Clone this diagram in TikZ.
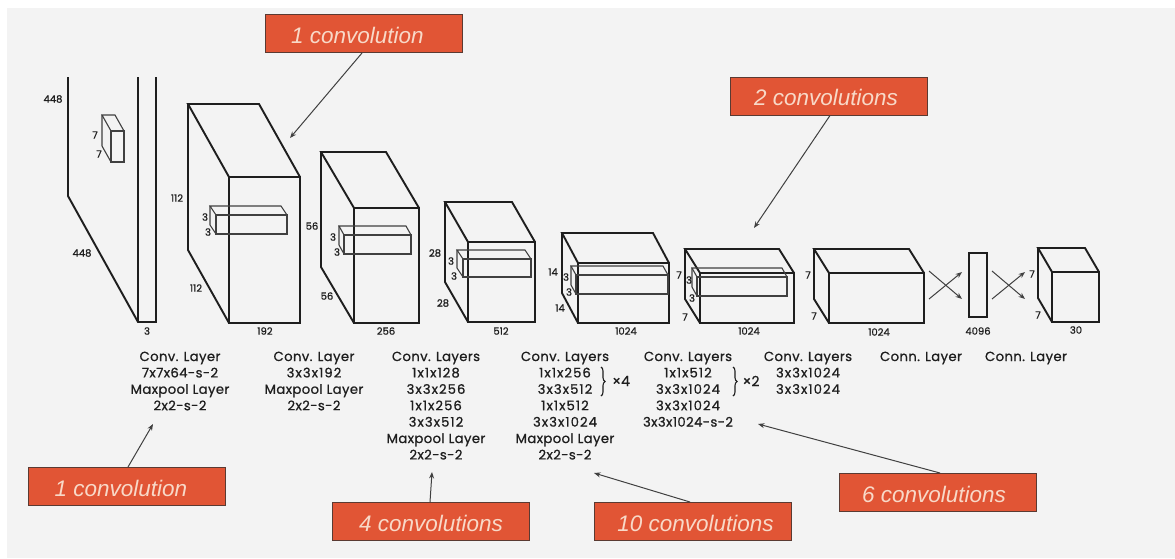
\documentclass[tikz,border=0pt]{standalone}
\usepackage{fontspec}
\usepackage{xcolor}
\usetikzlibrary{arrows.meta, decorations.pathreplacing}
\setmainfont{Poppins}
\newfontfamily\calloutfont{Liberation Sans}
\definecolor{calloutred}{HTML}{E15535}
\definecolor{calloutedge}{HTML}{5A3A32}
\definecolor{callouttext}{HTML}{F8D9C8}
\definecolor{pagegray}{HTML}{F3F3F3}
\definecolor{inkdark}{HTML}{1E1E1E}

% back top-left x,y / front top-left x,y / front bottom-right x,y
\newcommand{\cuboid}[7][box_line]{
    \draw[#1] (#4,#5) rectangle (#6,#7);
    \draw[#1] (#4,#5) -- (#2,#3) -- ({#2+#6-#4},#3) -- (#6,#5);
    \draw[#1] (#2,#3) -- (#2,{#3+#7-#5}) -- (#4,#7);
}
% kernel sizes are set wider than the rest of the text
\newcommand{\kernel}[1]{{\addfontfeature{FakeBold=0.8,LetterSpace=8}#1}}

\begin{document}
\begin{tikzpicture}[
    x=1pt, y=-1pt,
    box_line/.style={line width=1.9pt, color=inkdark, line join=miter},
    kernel_line/.style={line width=1.1pt, color=inkdark!85},
    arrow/.style={-{Stealth[length=6.5pt, width=5pt]}, line width=1pt, color=black!75},
    callout/.style={rectangle, draw=calloutedge, line width=1pt, fill=calloutred, minimum width=197pt, minimum height=38pt, inner sep=0pt, text=callouttext, text height=19pt, text depth=0pt, font=\calloutfont\fontsize{22.5}{24}\selectfont\itshape},
    layer_label/.style={anchor=north, align=center, inner sep=0pt, text=inkdark, font=\fontsize{13.2}{16.4}\selectfont\addfontfeature{FakeBold=0.8,LetterSpace=3}},
    dim_label/.style={inner sep=0pt, text=inkdark, font=\fontsize{10}{12}\selectfont\addfontfeature{FakeBold=0.8}},
    times_label/.style={inner sep=0pt, text=inkdark, font=\fontsize{14}{16}\selectfont\addfontfeature{FakeBold=0.3}},
    brace_line/.style={decorate, decoration={brace, amplitude=4pt}, line width=1.1pt, color=inkdark}
]

    % ============================================================
    % PAGE
    % ============================================================
    \useasboundingbox (0,0) rectangle (1175,558);
    \fill[white] (0,0) rectangle (1175,558);
    \fill[pagegray] (7,8) rectangle (1175,558);

    % ============================================================
    % INPUT IMAGE
    % ============================================================
    \draw[box_line] (68,77) -- (68,196) -- (138,322) -- (156,322) -- (156,77);
    \draw[box_line] (138,322) -- (138,77);
    \cuboid[kernel_line]{102}{115}{111}{131}{124}{162}

    \node[dim_label] (in-h) at (53,99) {448};
    \node[dim_label] (in-w) at (82,253) {448};
    \node[dim_label] (in-d) at (147,331) {3};
    \node[dim_label] (in-kh) at (95,135) {7};
    \node[dim_label] (in-kw) at (99,154) {7};

    % ============================================================
    % CONV VOLUMES
    % ============================================================
    \cuboid{188}{104}{229}{177}{300}{323}
    \cuboid[kernel_line]{210}{206}{216}{215}{287}{234}
    \node[dim_label] (a-h) at (177,198) {112};
    \node[dim_label] (a-w) at (196,288) {112};
    \node[dim_label] (a-d) at (265,331) {192};
    \node[dim_label] (a-kh) at (205,217) {3};
    \node[dim_label] (a-kw) at (208,232) {3};

    \cuboid{321}{152}{354}{208}{419}{323}
    \cuboid[kernel_line]{339}{226}{344}{235}{411}{254}
    \node[dim_label] (b-h) at (312,226) {56};
    \node[dim_label] (b-w) at (327,296) {56};
    \node[dim_label] (b-d) at (386,331) {256};
    \node[dim_label] (b-kh) at (333,237) {3};
    \node[dim_label] (b-kw) at (337,252) {3};

    \cuboid{445}{202}{468}{242}{535}{322}
    \cuboid[kernel_line]{457}{250}{463}{259}{531}{277}
    \node[dim_label] (c-h) at (435,253) {28};
    \node[dim_label] (c-w) at (443,303) {28};
    \node[dim_label] (c-d) at (501,331) {512};
    \node[dim_label] (c-kh) at (451,261) {3};
    \node[dim_label] (c-kw) at (454,276) {3};

    \cuboid{562}{233}{578}{263}{669}{323}
    \cuboid[kernel_line]{571}{266}{576}{275}{668}{294}
    \node[dim_label] (d-h) at (553,272) {14};
    \node[dim_label] (d-w) at (560,308) {14};
    \node[dim_label] (d-d) at (626,331) {1024};
    \node[dim_label] (d-kh) at (566,277) {3};
    \node[dim_label] (d-kw) at (569,292) {3};

    \cuboid{685}{249}{700}{273}{794}{323}
    \cuboid[kernel_line]{692}{268}{697}{277}{787}{296}
    \node[dim_label] (e-h) at (679,275) {7};
    \node[dim_label] (e-w) at (685,317) {7};
    \node[dim_label] (e-d) at (749,331) {1024};
    \node[dim_label] (e-kh) at (689,280) {3};
    \node[dim_label] (e-kw) at (692,298) {3};

    \cuboid{814}{249}{829}{273}{924}{323}
    \node[dim_label] (f-h) at (808,275) {7};
    \node[dim_label] (f-w) at (814,316) {7};
    \node[dim_label] (f-d) at (879,332) {1024};

    % ============================================================
    % FULLY CONNECTED PART
    % ============================================================
    \draw[box_line] (969,253) rectangle (987,317);
    \node[dim_label] (fc-d) at (978,331) {4096};

    \cuboid{1038}{248}{1052}{272}{1099}{322}
    \node[dim_label] (out-h) at (1032,274) {7};
    \node[dim_label] (out-w) at (1038,315) {7};
    \node[dim_label] (out-d) at (1076,330) {30};

    \coordinate (xa-nw) at (929,271);
    \coordinate (xa-sw) at (929,299);
    \coordinate (xa-ne) at (962,272);
    \coordinate (xa-se) at (962,299);
    \coordinate (xb-nw) at (992,271);
    \coordinate (xb-sw) at (992,299);
    \coordinate (xb-ne) at (1025,272);
    \coordinate (xb-se) at (1025,299);
    \draw[arrow] (xa-nw) -- (xa-se);
    \draw[arrow] (xa-sw) -- (xa-ne);
    \draw[arrow] (xb-nw) -- (xb-se);
    \draw[arrow] (xb-sw) -- (xb-ne);

    % ============================================================
    % LAYER TEXT
    % ============================================================
    \node[layer_label] (layers-a) at (180,351.5) {Conv. Layer\\7x7x64-s-2\\Maxpool Layer\\2x2-s-2};
    \node[layer_label] (layers-b) at (314,351.5) {Conv. Layer\\\kernel{3x3x192}\\Maxpool Layer\\2x2-s-2};
    \node[layer_label] (layers-c) at (436,351.5) {Conv. Layers\\\kernel{1x1x128}\\\kernel{3x3x256}\\\kernel{1x1x256}\\\kernel{3x3x512}\\Maxpool Layer\\2x2-s-2};
    \node[layer_label] (layers-d) at (565,351.5) {Conv. Layers\\\kernel{1x1x256}\\\kernel{3x3x512}\\\kernel{1x1x512}\\\kernel{3x3x1024}\\Maxpool Layer\\2x2-s-2};
    \node[layer_label] (layers-e) at (688,351.5) {Conv. Layers\\\kernel{1x1x512}\\\kernel{3x3x1024}\\\kernel{3x3x1024}\\3x3x1024-s-2};
    \node[layer_label] (layers-f) at (808,351.5) {Conv. Layers\\\kernel{3x3x1024}\\\kernel{3x3x1024}};
    \node[layer_label] (layers-g) at (921,351.5) {Conn. Layer};
    \node[layer_label] (layers-h) at (1026,351.5) {Conn. Layer};

    \draw[brace_line] (601,367) -- (601,396);
    \draw[brace_line] (733,367) -- (733,396);
    \node[times_label] (times-d) at (621,381) {×4};
    \node[times_label] (times-e) at (751,381) {×2};

    % ============================================================
    % CALLOUTS
    % ============================================================
    \node[callout] (conv-top) at (363.5,33.5) {1 convolution\hspace*{12pt}};
    \node[callout] (conv-two) at (829,96) {2 convolutions\hspace*{6pt}};
    \node[callout] (conv-one) at (127,486.5) {1 convolution\hspace*{12pt}};
    \node[callout] (conv-four) at (431,521.5) {4 convolutions};
    \node[callout] (conv-ten) at (692.5,521.5) {\hspace*{6pt}10 convolutions};
    \node[callout] (conv-six) at (938,492.5) {6 convolutions\hspace*{8pt}};

    \coordinate (tip-top) at (290,138);
    \coordinate (tip-two) at (754,228);
    \coordinate (tip-one) at (153,424);
    \coordinate (tip-four) at (432,472);
    \coordinate (tip-ten) at (594,473);
    \coordinate (tip-six) at (758,424);

    \draw[arrow] ([xshift=-1.5pt]conv-top.south) -- (tip-top);
    \draw[arrow] ([xshift=1pt]conv-two.south) -- (tip-two);
    \draw[arrow] ([xshift=1pt]conv-one.north) -- (tip-one);
    \draw[arrow] ([xshift=-1pt]conv-four.north) -- (tip-four);
    \draw[arrow] ([xshift=-2.5pt]conv-ten.north) -- (tip-ten);
    \draw[arrow] ([xshift=2pt]conv-six.north) -- (tip-six);

\end{tikzpicture}
\end{document}
